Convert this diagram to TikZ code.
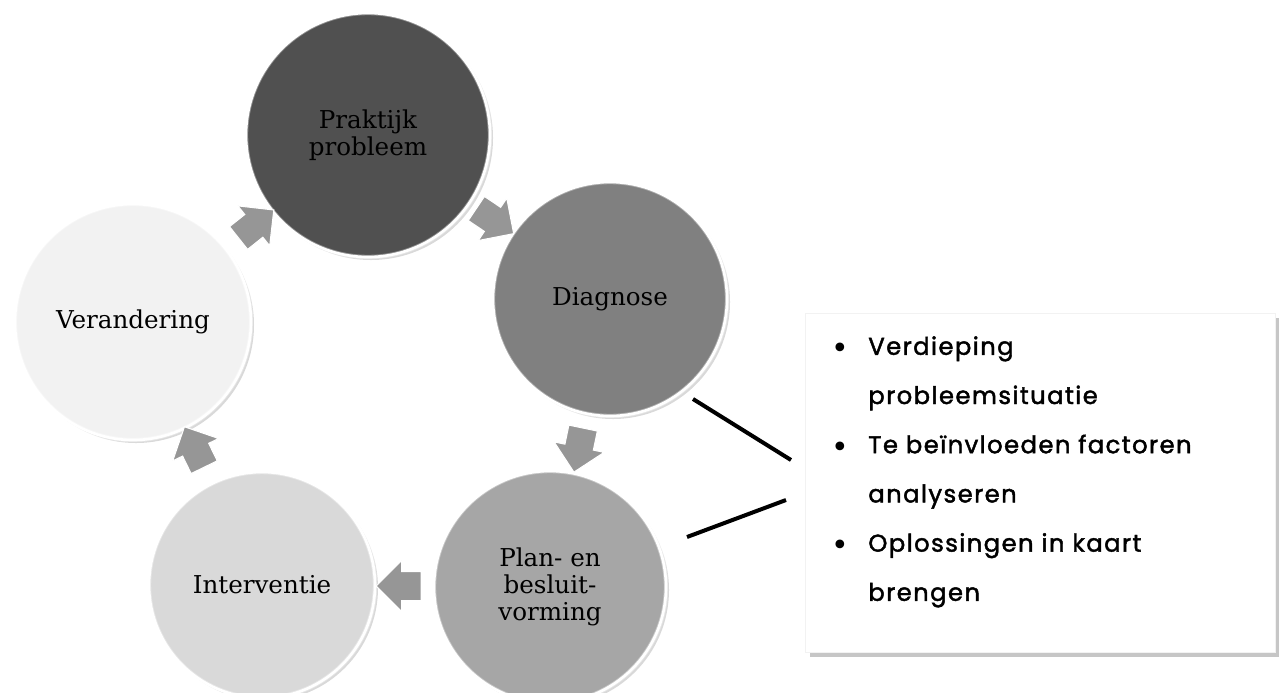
\documentclass[tikz,border=0pt]{standalone}
\usepackage{fontspec}
\setmainfont{DejaVu Serif}
\newfontfamily\listfont[LetterSpace=6,FakeBold=1.8]{Poppins}
\newfontfamily\dotfont{DejaVu Sans}
\usetikzlibrary{shapes.arrows,shadows,calc}

\definecolor{prakgray}{HTML}{505050}
\definecolor{diaggray}{HTML}{808080}
\definecolor{plangray}{HTML}{A6A6A6}
\definecolor{intgray}{HTML}{D9D9D9}
\definecolor{verangray}{HTML}{F2F2F2}
\definecolor{arrowgray}{HTML}{969696}

\newcommand\opsomteken{\raisebox{-2.2pt}{\dotfont\fontsize{17}{17}\selectfont\textbullet}}

\begin{document}
\begin{tikzpicture}[x=0.2mm, y=-0.2mm,
  stage/.style={circle, draw=white, line width=1.5pt, align=center, inner sep=0pt,
    font={\fontsize{14}{15.3}\selectfont},
    postaction={draw=white, opacity=0.35, line width=2.5pt},
    drop shadow={opacity=0.3, shadow xshift=0.6mm, shadow yshift=-0.6mm}},
  cyclearrow/.style={single arrow, fill=arrowgray, draw=white, line width=0.6pt,
    minimum height=9mm, single arrow head extend=2.2mm, inner sep=2.8mm},
  infobox/.style={rectangle, fill=white, draw=black!5, minimum width=94mm, minimum height=67.8mm,
    drop shadow={opacity=0.45, shadow xshift=1mm, shadow yshift=-1mm}},
  callout/.style={line width=0.8mm}]

\useasboundingbox (0,0) rectangle (1279,692);

% cirkels
\node[stage, fill=prakgray, minimum size=48.8mm] (prak) at (368,135) {Praktijk\\probleem};
\node[stage, fill=diaggray, minimum size=46.8mm] (diag) at (610,299) {Diagnose};
\node[stage, fill=plangray, minimum size=46.4mm] (plan) at (550,587) {Plan- en\\besluit-\\vorming};
\node[stage, fill=intgray, minimum size=45.2mm] (inter) at (262,585) {Interventie};
\node[stage, fill=verangray, minimum size=47.2mm] (veran) at (133,322) {Verandering};

% pijlen
\node[cyclearrow, rotate=38.5] (pijl1) at ($(veran)!0.5!(prak)$) {};
\node[cyclearrow, rotate=-34] (pijl2) at ($(prak)!0.5!(diag)$) {};
\node[cyclearrow, rotate=-101.8] (pijl3) at ($(diag)!0.5!(plan)$) {};
\node[cyclearrow, rotate=180] (pijl4) at ($(plan)!0.5!(inter)$) {};
\node[cyclearrow, rotate=116] (pijl5) at ($(inter)!0.5!(veran)$) {};

% toelichting
\node[infobox] (info) at (1040,482.5) {};
\node[anchor=north west, inner sep=0pt, align=left,
  font={\listfont\fontsize{13.8}{28}\selectfont}] (lijst) at (831,320) {%
  \begin{tabular}{@{}p{7.4mm}@{}l@{}}
  \opsomteken & Verdieping\\
   & probleemsituatie\\
  \opsomteken & Te beïnvloeden factoren\\
   & analyseren\\
  \opsomteken & Oplossingen in kaart\\
   & brengen
  \end{tabular}};

\coordinate (lijn1a) at (693,399);
\coordinate (lijn1b) at (791,460);
\coordinate (lijn2a) at (687,537);
\coordinate (lijn2b) at (786,500);
\draw[callout] (lijn1a) -- (lijn1b);
\draw[callout] (lijn2a) -- (lijn2b);

\end{tikzpicture}
\end{document}
